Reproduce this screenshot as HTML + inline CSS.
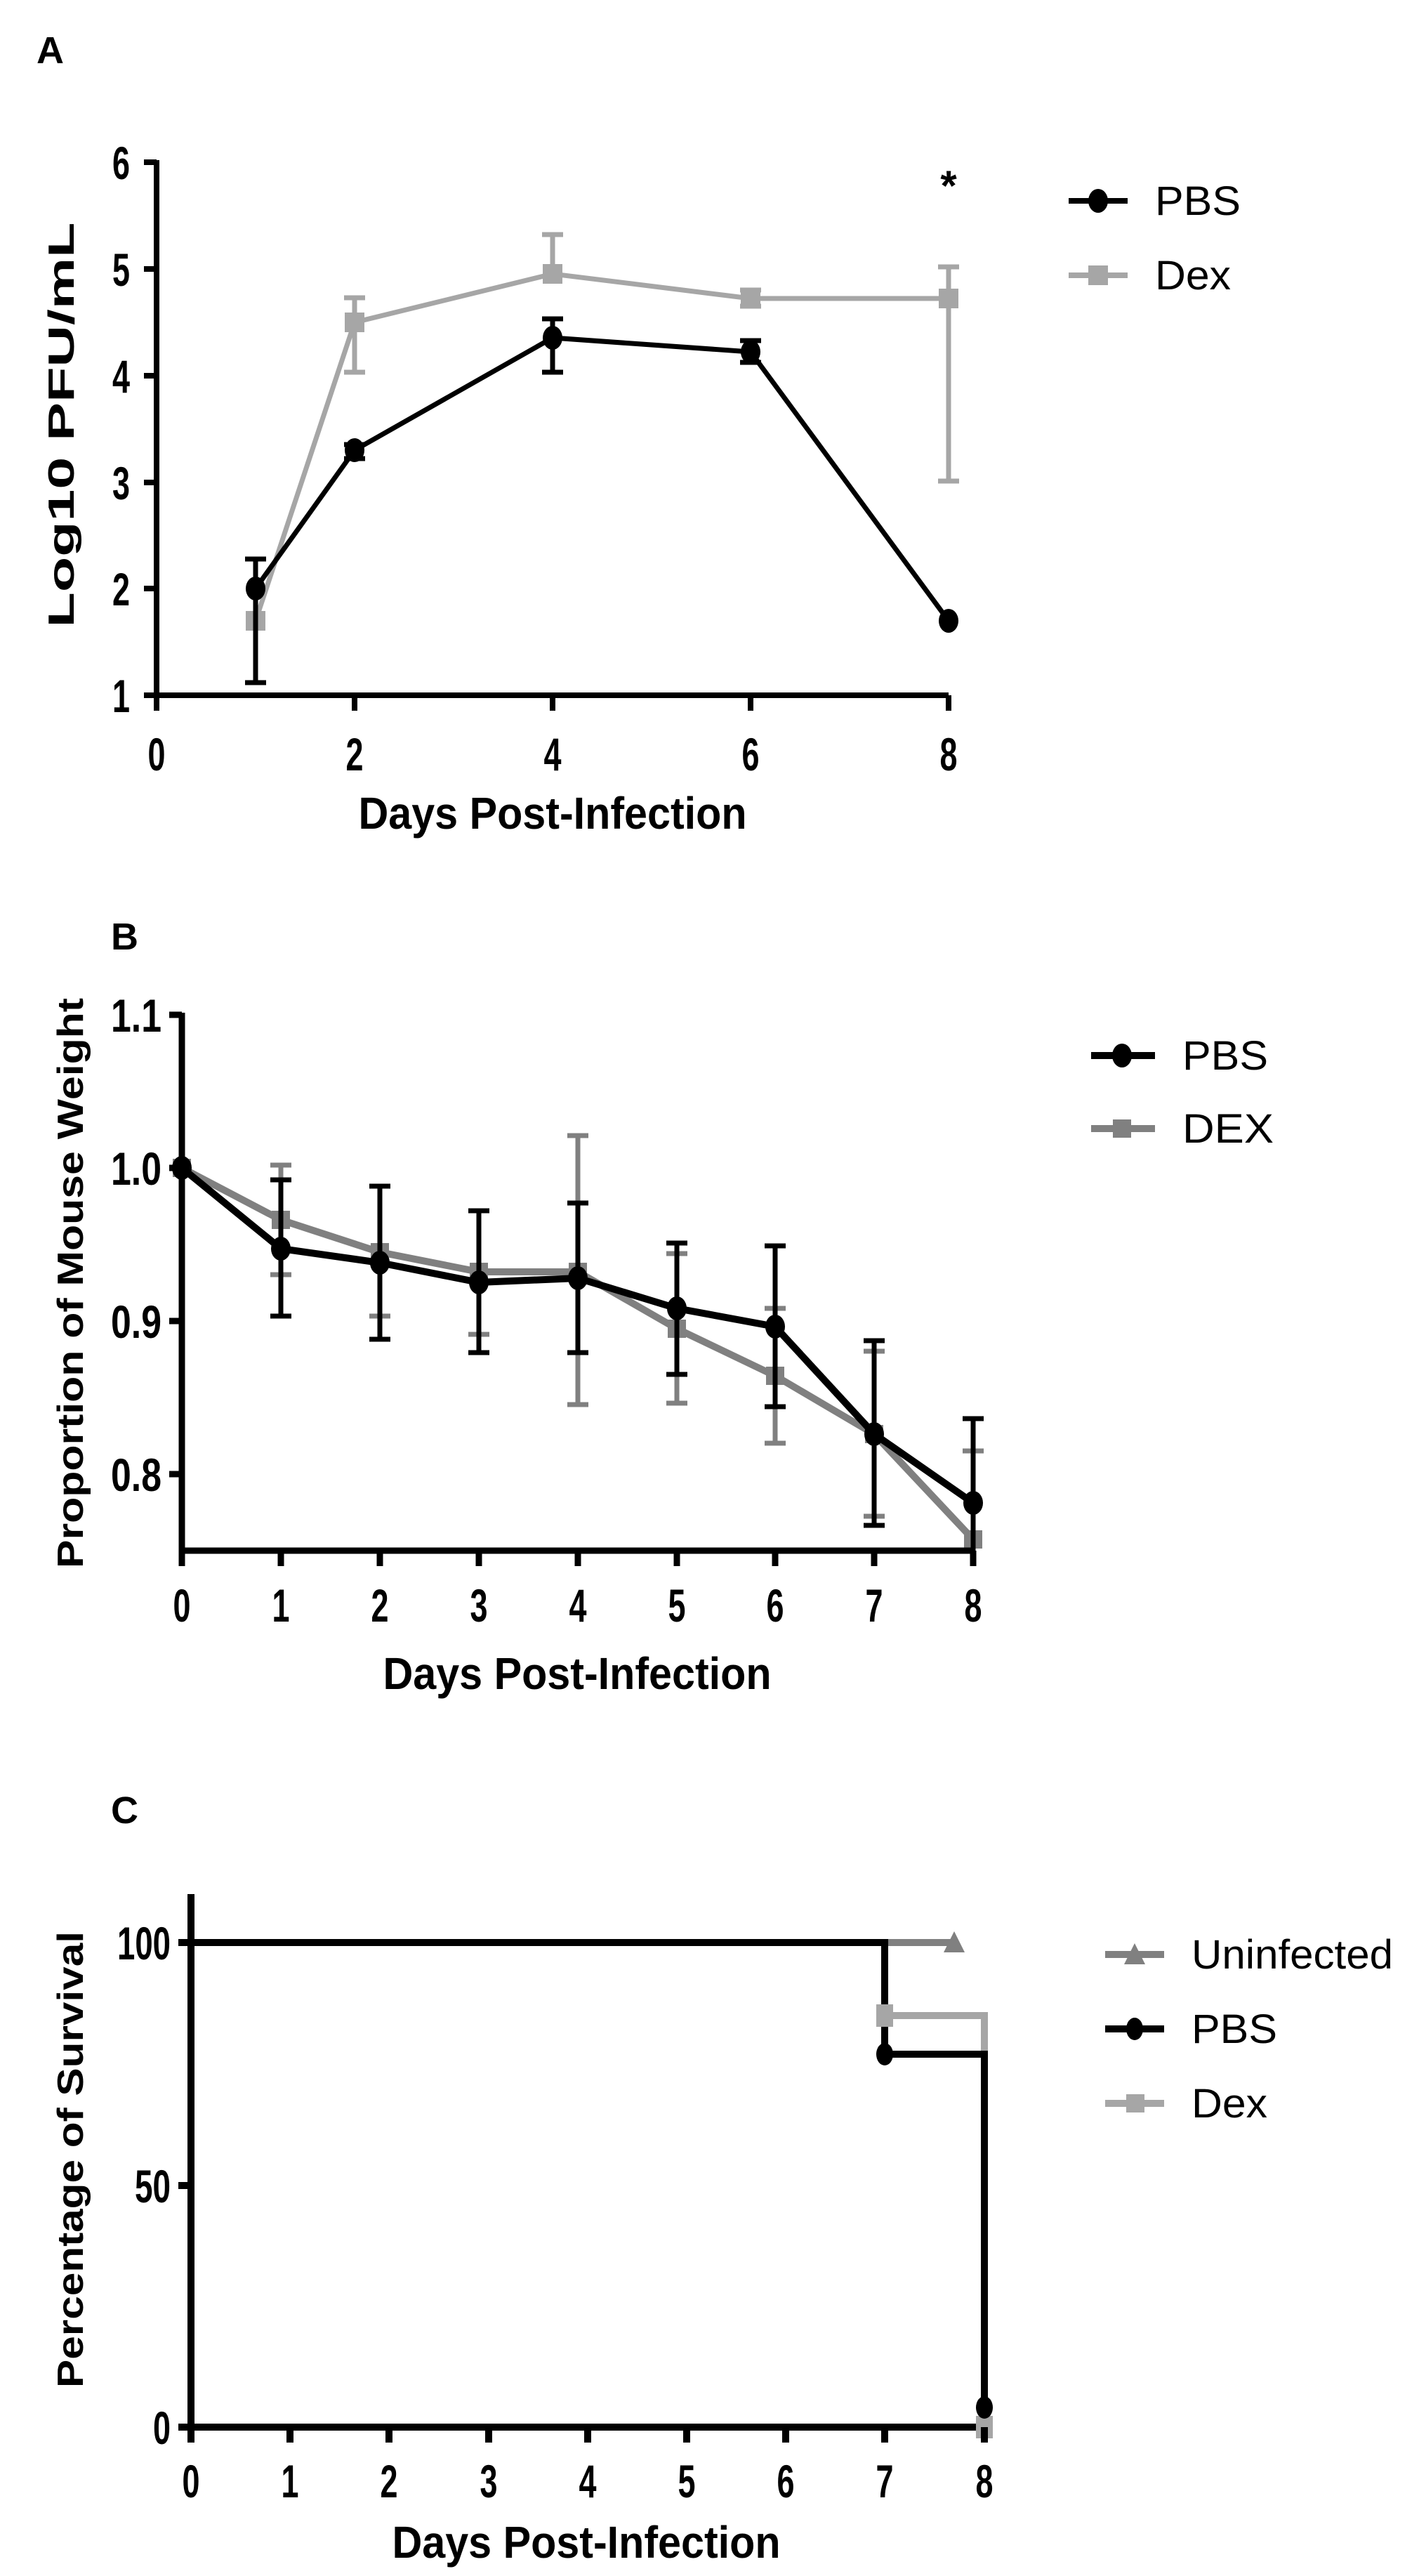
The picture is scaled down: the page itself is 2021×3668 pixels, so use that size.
<!DOCTYPE html>
<html><head><meta charset="utf-8"><style>html,body{margin:0;padding:0;background:#fff}svg{display:block}</style></head><body>
<svg width="2021" height="3668" viewBox="0 0 2021 3668" xmlns="http://www.w3.org/2000/svg" font-family="'Liberation Sans',sans-serif">
<rect width="2021" height="3668" fill="#fff"/>
<!-- ===== Panel A ===== -->
<text x="52" y="90" font-size="54" font-weight="bold">A</text>
<g stroke="#a6a6a6" stroke-width="7" fill="none">
<polyline points="364,884 505,459 787,390 1069,425 1351,425"/>
<path d="M505,530V424M490,530h30M490,424h30 M787,390V334M772,334h30 M1069,436V413M1054,436h30M1054,413h30 M1351,685V380M1336,685h30M1336,380h30"/>
</g>
<g fill="#a6a6a6"><rect x="350" y="870" width="28" height="28"/><rect x="491" y="445" width="28" height="28"/><rect x="773" y="376" width="28" height="28"/><rect x="1055" y="411" width="28" height="28"/><rect x="1337" y="411" width="28" height="28"/></g>
<g stroke="#000" stroke-width="7" fill="none">
<polyline points="364,838 505,641 787,481 1069,501 1351,884"/>
<path d="M364,972V796M349,972h30M349,796h30 M505,653V633M490,653h30M490,633h30 M787,530V454M772,530h30M772,454h30 M1069,516V485M1054,516h30M1054,485h30"/>
</g>
<g fill="#000"><ellipse cx="364" cy="838" rx="14" ry="17"/><ellipse cx="505" cy="641" rx="14" ry="17"/><ellipse cx="787" cy="481" rx="14" ry="17"/><ellipse cx="1069" cy="501" rx="14" ry="17"/><ellipse cx="1351" cy="884" rx="14" ry="17"/></g>
<g stroke="#000" stroke-width="8" fill="none">
<path d="M223,228V990H1351"/>
<path d="M205,231h18M205,383h18M205,535h18M205,687h18M205,838h18M205,990h18"/>
<path d="M223,990v22M505,990v22M787,990v22M1069,990v22M1351,990v22"/>
</g>
<g font-size="66" font-weight="bold" text-anchor="end">
<text x="185" y="255" textLength="25" lengthAdjust="spacingAndGlyphs">6</text><text x="185" y="407" textLength="25" lengthAdjust="spacingAndGlyphs">5</text><text x="185" y="559" textLength="25" lengthAdjust="spacingAndGlyphs">4</text><text x="185" y="711" textLength="25" lengthAdjust="spacingAndGlyphs">3</text><text x="185" y="862" textLength="25" lengthAdjust="spacingAndGlyphs">2</text><text x="185" y="1014" textLength="25" lengthAdjust="spacingAndGlyphs">1</text>
</g>
<g font-size="66" font-weight="bold" text-anchor="middle">
<text x="223" y="1097" textLength="25" lengthAdjust="spacingAndGlyphs">0</text><text x="505" y="1097" textLength="25" lengthAdjust="spacingAndGlyphs">2</text><text x="787" y="1097" textLength="25" lengthAdjust="spacingAndGlyphs">4</text><text x="1069" y="1097" textLength="25" lengthAdjust="spacingAndGlyphs">6</text><text x="1351" y="1097" textLength="25" lengthAdjust="spacingAndGlyphs">8</text>
</g>
<text x="1351" y="285" font-size="60" font-weight="bold" text-anchor="middle">*</text>
<text x="787" y="1180" font-size="64" font-weight="bold" text-anchor="middle" textLength="553" lengthAdjust="spacingAndGlyphs">Days Post-Infection</text>
<text transform="translate(105,605) rotate(-90)" font-size="52" font-weight="bold" text-anchor="middle" textLength="577" lengthAdjust="spacingAndGlyphs">Log10 PFU/mL</text>
<path d="M1522,286H1606" stroke="#000" stroke-width="8"/><ellipse cx="1564" cy="286" rx="14" ry="17"/>
<text x="1645" y="306" font-size="58" textLength="122" lengthAdjust="spacingAndGlyphs">PBS</text>
<path d="M1522,392H1606" stroke="#a6a6a6" stroke-width="8"/><rect x="1550" y="378" width="28" height="28" fill="#a6a6a6"/>
<text x="1645" y="412" font-size="58" textLength="108" lengthAdjust="spacingAndGlyphs">Dex</text>

<!-- ===== Panel B ===== -->
<text x="158" y="1352" font-size="54" font-weight="bold">B</text>
<defs><clipPath id="cb"><rect x="200" y="1400" width="1300" height="808"/></clipPath></defs>
<g clip-path="url(#cb)">
<g stroke="#808080" stroke-width="10" fill="none">
<polyline points="259,1663 400,1737 541,1783 682,1811 823,1811 964,1892 1104,1959 1245,2042 1386,2192"/>
</g>
<g stroke="#808080" stroke-width="7" fill="none">
<path d="M400,1815V1659M385,1815h30M385,1659h30 M541,1874V1783M526,1874h30 M682,1900V1811M667,1900h30 M823,2000V1617M808,2000h30M808,1617h30 M964,1998V1785M949,1998h30M949,1785h30 M1104,2055V1863M1089,2055h30M1089,1863h30 M1245,2159V1924M1230,2159h30M1230,1924h30 M1386,2192V2066M1371,2066h30"/>
</g>
<g fill="#808080"><rect x="246" y="1650" width="26" height="26"/><rect x="387" y="1724" width="26" height="26"/><rect x="528" y="1770" width="26" height="26"/><rect x="669" y="1798" width="26" height="26"/><rect x="810" y="1798" width="26" height="26"/><rect x="951" y="1879" width="26" height="26"/><rect x="1091" y="1946" width="26" height="26"/><rect x="1232" y="2029" width="26" height="26"/><rect x="1373" y="2179" width="26" height="26"/></g>
<g stroke="#000" stroke-width="10" fill="none">
<polyline points="259,1663 400,1778 541,1798 682,1826 823,1820 964,1863 1104,1889 1245,2042 1386,2140"/>
</g>
<g stroke="#000" stroke-width="7" fill="none">
<path d="M400,1874V1680M385,1874h30M385,1680h30 M541,1907V1689M526,1907h30M526,1689h30 M682,1926V1724M667,1926h30M667,1724h30 M823,1926V1713M808,1926h30M808,1713h30 M964,1957V1770M949,1957h30M949,1770h30 M1104,2003V1774M1089,2003h30M1089,1774h30 M1245,2172V1909M1230,2172h30M1230,1909h30 M1386,2230V2020M1371,2020h30"/>
</g>
<g fill="#000"><ellipse cx="259" cy="1663" rx="14" ry="17"/><ellipse cx="400" cy="1778" rx="14" ry="17"/><ellipse cx="541" cy="1798" rx="14" ry="17"/><ellipse cx="682" cy="1826" rx="14" ry="17"/><ellipse cx="823" cy="1820" rx="14" ry="17"/><ellipse cx="964" cy="1863" rx="14" ry="17"/><ellipse cx="1104" cy="1889" rx="14" ry="17"/><ellipse cx="1245" cy="2042" rx="14" ry="17"/><ellipse cx="1386" cy="2140" rx="14" ry="17"/></g>
</g>
<g stroke="#000" stroke-width="9" fill="none">
<path d="M259,1442V2208H1386"/>
<path d="M241,1445h18M241,1663h18M241,1881h18M241,2099h18"/>
<path d="M259,2208v22M400,2208v22M541,2208v22M682,2208v22M823,2208v22M964,2208v22M1104,2208v22M1245,2208v22M1386,2208v22"/>
</g>
<g font-size="66" font-weight="bold" text-anchor="end">
<text x="230" y="1469" textLength="72" lengthAdjust="spacingAndGlyphs">1.1</text><text x="230" y="1687" textLength="72" lengthAdjust="spacingAndGlyphs">1.0</text><text x="230" y="1905" textLength="72" lengthAdjust="spacingAndGlyphs">0.9</text><text x="230" y="2123" textLength="72" lengthAdjust="spacingAndGlyphs">0.8</text>
</g>
<g font-size="66" font-weight="bold" text-anchor="middle">
<text x="259" y="2309" textLength="25" lengthAdjust="spacingAndGlyphs">0</text><text x="400" y="2309" textLength="25" lengthAdjust="spacingAndGlyphs">1</text><text x="541" y="2309" textLength="25" lengthAdjust="spacingAndGlyphs">2</text><text x="682" y="2309" textLength="25" lengthAdjust="spacingAndGlyphs">3</text><text x="823" y="2309" textLength="25" lengthAdjust="spacingAndGlyphs">4</text><text x="964" y="2309" textLength="25" lengthAdjust="spacingAndGlyphs">5</text><text x="1104" y="2309" textLength="25" lengthAdjust="spacingAndGlyphs">6</text><text x="1245" y="2309" textLength="25" lengthAdjust="spacingAndGlyphs">7</text><text x="1386" y="2309" textLength="25" lengthAdjust="spacingAndGlyphs">8</text>
</g>
<text x="822" y="2405" font-size="64" font-weight="bold" text-anchor="middle" textLength="553" lengthAdjust="spacingAndGlyphs">Days Post-Infection</text>
<text transform="translate(118,1827) rotate(-90)" font-size="52" font-weight="bold" text-anchor="middle" textLength="812" lengthAdjust="spacingAndGlyphs">Proportion of Mouse Weight</text>
<path d="M1554,1503H1645" stroke="#000" stroke-width="10"/><ellipse cx="1598" cy="1503" rx="14" ry="17"/>
<text x="1684" y="1523" font-size="58" textLength="122" lengthAdjust="spacingAndGlyphs">PBS</text>
<path d="M1554,1607H1645" stroke="#808080" stroke-width="10"/><rect x="1585" y="1594" width="26" height="26" fill="#808080"/>
<text x="1684" y="1627" font-size="58" textLength="130" lengthAdjust="spacingAndGlyphs">DEX</text>

<!-- ===== Panel C ===== -->
<text x="158" y="2596" font-size="54" font-weight="bold">C</text>
<g fill="none" stroke-width="10">
<path d="M1260,2766H1359" stroke="#808080"/>
<path d="M1260,2870H1402V3456" stroke="#a6a6a6"/>
<path d="M272,2766H1260V2925H1402V3456" stroke="#000"/>
</g>
<path d="M1359,2750 l-15,30 h30z" fill="#808080"/>
<rect x="1248" y="2854" width="24" height="32" fill="#a6a6a6"/>
<rect x="1390" y="3440" width="24" height="32" fill="#a6a6a6"/>
<ellipse cx="1260" cy="2925" rx="12" ry="16" fill="#000"/>
<ellipse cx="1402" cy="3428" rx="12" ry="16" fill="#000"/>
<g stroke="#000" stroke-width="10" fill="none">
<path d="M272,2697V3456H1390"/>
<path d="M254,2766h18M254,3112h18M254,3456h18"/>
<path d="M272,3456v22M413,3456v22M554,3456v22M696,3456v22M837,3456v22M978,3456v22M1119,3456v22M1260,3456v22M1402,3456v22"/>
</g>
<g font-size="66" font-weight="bold" text-anchor="end">
<text x="243" y="2790" textLength="76" lengthAdjust="spacingAndGlyphs">100</text><text x="243" y="3136" textLength="51" lengthAdjust="spacingAndGlyphs">50</text><text x="243" y="3480" textLength="25" lengthAdjust="spacingAndGlyphs">0</text>
</g>
<g font-size="66" font-weight="bold" text-anchor="middle">
<text x="272" y="3556" textLength="25" lengthAdjust="spacingAndGlyphs">0</text><text x="413" y="3556" textLength="25" lengthAdjust="spacingAndGlyphs">1</text><text x="554" y="3556" textLength="25" lengthAdjust="spacingAndGlyphs">2</text><text x="696" y="3556" textLength="25" lengthAdjust="spacingAndGlyphs">3</text><text x="837" y="3556" textLength="25" lengthAdjust="spacingAndGlyphs">4</text><text x="978" y="3556" textLength="25" lengthAdjust="spacingAndGlyphs">5</text><text x="1119" y="3556" textLength="25" lengthAdjust="spacingAndGlyphs">6</text><text x="1260" y="3556" textLength="25" lengthAdjust="spacingAndGlyphs">7</text><text x="1402" y="3556" textLength="25" lengthAdjust="spacingAndGlyphs">8</text>
</g>
<text x="835" y="3642" font-size="64" font-weight="bold" text-anchor="middle" textLength="553" lengthAdjust="spacingAndGlyphs">Days Post-Infection</text>
<text transform="translate(118,3075) rotate(-90)" font-size="52" font-weight="bold" text-anchor="middle" textLength="650" lengthAdjust="spacingAndGlyphs">Percentage of Survival</text>
<path d="M1574,2783H1658" stroke="#808080" stroke-width="10"/><path d="M1616,2767 l-15,30 h30z" fill="#808080"/>
<text x="1697" y="2803" font-size="58" textLength="287" lengthAdjust="spacingAndGlyphs">Uninfected</text>
<path d="M1574,2889H1658" stroke="#000" stroke-width="10"/><ellipse cx="1616" cy="2889" rx="12" ry="16"/>
<text x="1697" y="2909" font-size="58" textLength="122" lengthAdjust="spacingAndGlyphs">PBS</text>
<path d="M1574,2995H1658" stroke="#a6a6a6" stroke-width="10"/><rect x="1604" y="2982" width="26" height="26" fill="#a6a6a6"/>
<text x="1697" y="3015" font-size="58" textLength="108" lengthAdjust="spacingAndGlyphs">Dex</text>
</svg>
</body></html>
